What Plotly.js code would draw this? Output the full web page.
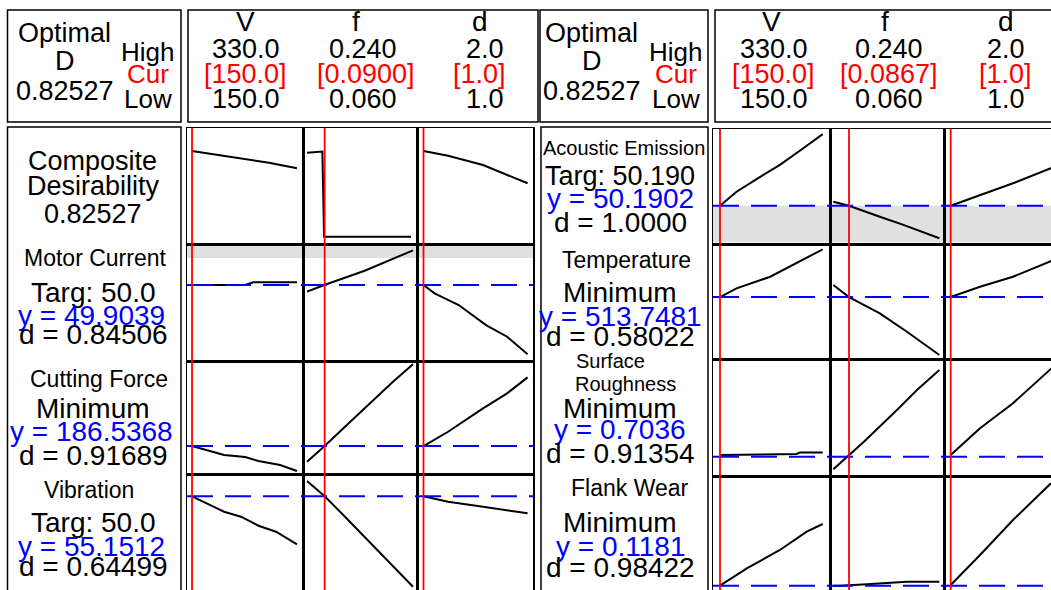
<!DOCTYPE html>
<html><head><meta charset="utf-8">
<script src="https://cdn.plot.ly/plotly-3.0.1.min.js"></script>
<style>html,body{margin:0;padding:0;background:#fff}#chart{width:1051px;height:590px}</style>
</head><body><div id="chart"></div>
<script>
// ================= DATA =================
const factors = ['V', 'f', 'd'];
const factorHigh = ['330.0', '0.240', '2.0'];
const factorLow = ['150.0', '0.060', '1.0'];
const curTextLeft = ['[150.0]', '[0.0900]', '[1.0]'];
const curTextRight = ['[150.0]', '[0.0867]', '[1.0]'];
const curValLeft = [150, 0.09, 1.0];
const curValRight = [150, 0.0867, 1.0];
const optimalD = '0.82527';

const respLeft = ['Motor Current', 'Cutting Force', 'Vibration'];
const goalLeft = ['Targ: 50.0', 'Minimum', 'Targ: 50.0'];
const yLeft = ['49.9039', '186.5368', '55.1512'];
const dLeft = ['0.84506', '0.91689', '0.64499'];

const respRight = ['Acoustic Emission', 'Temperature', 'Surface|Roughness', 'Flank Wear'];
const goalRight = ['Targ: 50.190', 'Minimum', 'Minimum', 'Minimum'];
const yRight = ['50.1902', '513.7481', '0.7036', '0.1181'];
const dRight = ['1.0000', '0.58022', '0.91354', '0.98422'];

// Composite desirability
const cdV_x = [150, 188, 234, 282, 330],            cdV_y = [0.825, 0.793, 0.755, 0.712, 0.658];
const cdF_x = [0.060, 0.0838, 0.0861, 0.089, 0.2366], cdF_y = [0.809, 0.820, 0.820, 0.000, 0.000];
const cdD_x = [1.0, 1.236, 1.572, 1.803, 2.0],      cdD_y = [0.825, 0.780, 0.690, 0.594, 0.514];
// Motor current
const mcV_x = [150, 241, 255, 330],                 mcV_y = [49.90, 49.90, 50.17, 50.17];
const mcF_x = [0.06, 0.0894, 0.158, 0.24],          mcF_y = [49.24, 49.90, 51.33, 53.37];
const mcD_x = [1.0, 1.106, 1.338, 1.601, 1.803, 2.0], mcD_y = [49.90, 49.07, 47.90, 45.90, 44.73, 42.97];
// Cutting force
const cfV_x = [150, 205, 241, 264, 301, 330],       cfV_y = [186.5, 177.5, 175.5, 171.5, 167.5, 161.5];
const cfF_x = [0.06, 0.09, 0.1245, 0.170, 0.206, 0.24], cfF_y = [170.8, 186.5, 205.8, 230.8, 250.8, 268.2];
const cfD_x = [1.0, 1.236, 1.572, 1.803, 2.0],      cfD_y = [186.5, 200.8, 224.2, 239.2, 255.2];
// Vibration
const vbV_x = [150, 174, 205, 234, 264, 294, 330],  vbV_y = [55.15, 54.45, 53.61, 53.11, 52.21, 51.61, 50.35];
const vbF_x = [0.06, 0.09, 0.1245, 0.182, 0.24],    vbF_y = [56.68, 55.15, 53.11, 49.61, 46.11];
const vbD_x = [1.0, 1.236, 1.572, 1.832, 2.0],      vbD_y = [55.15, 54.61, 54.11, 53.68, 53.45];
// Acoustic emission
const aeV_x = [150, 179, 226, 255, 296, 330],       aeV_y = [50.19, 50.89, 51.73, 52.23, 53.06, 53.77];
const aeF_x = [0.06, 0.0867, 0.139, 0.179, 0.24],   aeF_y = [50.39, 50.19, 49.64, 49.23, 48.56];
const aeD_x = [1.0, 1.282, 1.599, 1.964, 2.0],      aeD_y = [50.19, 50.73, 51.31, 52.06, 52.13];
// Temperature
const tpV_x = [150, 179, 238, 284, 330],            tpV_y = [513.7, 522.4, 534.0, 547.4, 561.4];
const tpF_x = [0.06, 0.0867, 0.139, 0.185, 0.24],   tpF_y = [525.7, 513.7, 497.4, 479.0, 455.7];
const tpD_x = [1.0, 1.282, 1.599, 1.964, 2.0],      tpD_y = [513.7, 524.0, 534.0, 549.7, 551.2];
// Surface roughness
const srV_x = [150, 284, 290, 330],                 srV_y = [0.712, 0.717, 0.724, 0.724];
const srF_x = [0.06, 0.0867, 0.111, 0.168, 0.202, 0.24], srF_y = [0.641, 0.712, 0.776, 0.937, 1.037, 1.137];
const srD_x = [1.0, 1.282, 1.599, 1.964, 2.0],      srD_y = [0.712, 0.846, 0.971, 1.142, 1.160];
// Flank wear
const fwV_x = [150, 197, 255, 302, 330],            fwV_y = [0.1181, 0.1355, 0.1538, 0.1721, 0.1798];
const fwF_x = [0.06, 0.0714, 0.117, 0.185, 0.24],   fwF_y = [0.1181, 0.1181, 0.1195, 0.1221, 0.1221];
const fwD_x = [1.0, 1.282, 1.599, 1.964],           fwD_y = [0.1188, 0.1488, 0.1838, 0.2205];

// grey bands (response units)
const bandLeftMC = [52.60, 54.00];
const bandRightAE = [48.36, 50.19];

// ================= LAYOUT =================
const W = 1051, H = 590;
const px = x => x / W, py = y => 1 - y / H;
const FONT = "'Liberation Sans', Arial, sans-serif";

const panels = [
  {
    cols: [[187, 303], [303, 417], [417, 533]],
    rows: [[128, 244], [244, 361], [361, 474], [474, 590]],
    xr: [[141.4, 340.3], [0.0532, 0.2468], [0.9375, 2.052]],
    yr: [[-0.0703, 1.0462], [42.3039, 54.0039], [158.5368, 271.5368], [45.7812, 57.3812]],
    curves: [[[cdV_x, cdV_y], [cdF_x, cdF_y], [cdD_x, cdD_y]],
             [[mcV_x, mcV_y], [mcF_x, mcF_y], [mcD_x, mcD_y]],
             [[cfV_x, cfV_y], [cfF_x, cfF_y], [cfD_x, cfD_y]],
             [[vbV_x, vbV_y], [vbF_x, vbF_y], [vbD_x, vbD_y]]],
    dashed: [null, parseFloat(yLeft[0]), parseFloat(yLeft[1]), parseFloat(yLeft[2])],
    band: [1, bandLeftMC],
    cur: curValLeft,
    cutRight: false
  },
  {
    cols: [[713, 830], [830, 944], [944, 1051]],
    rows: [[129, 244], [244, 359], [359, 476], [476, 590]],
    xr: [[137.73, 342.8], [0.0544, 0.2479], [0.9356, 1.9644]],
    yr: [[48.2752, 54.0252], [451.7481, 566.7481], [0.6071, 1.1921], [0.1138, 0.2278]],
    curves: [[[aeV_x, aeV_y], [aeF_x, aeF_y], [aeD_x, aeD_y]],
             [[tpV_x, tpV_y], [tpF_x, tpF_y], [tpD_x, tpD_y]],
             [[srV_x, srV_y], [srF_x, srF_y], [srD_x, srD_y]],
             [[fwV_x, fwV_y], [fwF_x, fwF_y], [fwD_x, fwD_y]]],
    dashed: yRight.map(parseFloat),
    band: [0, bandRightAE],
    cur: curValRight,
    cutRight: true
  }
];

const traces = [];
const layout = {
  width: W, height: H,
  margin: {l: 0, r: 0, t: 0, b: 0},
  paper_bgcolor: '#ffffff', plot_bgcolor: 'rgba(0,0,0,0)',
  showlegend: false,
  font: {family: FONT, color: '#000'},
  shapes: [], annotations: []
};

const axBase = {showline: true, mirror: true, linecolor: '#000', linewidth: 1.5,
  showgrid: false, zeroline: false, showticklabels: false, ticks: '', fixedrange: true};

panels.forEach((P, p) => {
  for (let r = 0; r < 4; r++) {
    for (let c = 0; c < 3; c++) {
      const n = p * 12 + r * 3 + c + 1;
      const sx = n > 1 ? String(n) : '';
      const xa = Object.assign({}, axBase, {
        domain: [px(P.cols[c][0]), px(P.cols[c][1])], range: P.xr[c], anchor: 'y' + sx
      });
      if (r === 3) { xa.side = 'top'; xa.mirror = false; }
      const ya = Object.assign({}, axBase, {
        domain: [py(P.rows[r][1]), py(P.rows[r][0])], range: P.yr[r], anchor: 'x' + sx
      });
      if (P.cutRight && c === 2) { ya.mirror = false; }
      layout['xaxis' + sx] = xa;
      layout['yaxis' + sx] = ya;
      const cv = P.curves[r][c];
      traces.push({type: 'scatter', mode: 'lines', x: cv[0], y: cv[1],
        xaxis: 'x' + sx, yaxis: 'y' + sx, hoverinfo: 'skip',
        line: {color: '#000', width: 2}});
    }
    // blue dashed line for the row
    if (P.dashed[r] !== null) {
      const n0 = p * 12 + r * 3 + 1;
      layout.shapes.push({type: 'line', xref: 'paper', yref: 'y' + (n0 > 1 ? n0 : ''),
        x0: px(P.cols[0][0]), x1: px(P.cols[2][1]) , y0: P.dashed[r], y1: P.dashed[r],
        line: {color: '#0000ff', width: 2, dash: '26px,12px'}});
    }
  }
  // grey band
  const br = P.band[0], nb = p * 12 + br * 3 + 1;
  layout.shapes.push({type: 'rect', xref: 'paper', yref: 'y' + (nb > 1 ? nb : ''), layer: 'below',
    x0: px(P.cols[0][0]), x1: px(P.cols[2][1]), y0: P.band[1][0], y1: P.band[1][1],
    fillcolor: '#e0e0e0', line: {width: 0}});
  // red current-setting lines
  for (let c = 0; c < 3; c++) {
    const n = p * 12 + c + 1;
    layout.shapes.push({type: 'line', xref: 'x' + (n > 1 ? n : ''), yref: 'paper',
      x0: P.cur[c], x1: P.cur[c], y0: -0.01, y1: py(P.rows[0][0]),
      line: {color: '#ff0000', width: 1.8}});
  }
});

// frames / boxes
const boxes = [
  [7.5, 10, 181, 122], [188, 10, 538, 122], [7.5, 127, 181, 600],
  [540, 10, 708, 122], [715, 10, 1070, 122], [541, 127, 708, 600]
];
boxes.forEach(b => layout.shapes.push({type: 'rect', xref: 'paper', yref: 'paper',
  x0: px(b[0]), x1: px(b[2]), y0: py(b[3]), y1: py(b[1]),
  line: {color: '#000', width: 1.5}, fillcolor: 'rgba(0,0,0,0)'}));

// text helper
function T(text, x, y, size, color) {
  layout.annotations.push({text: text, x: px(x), y: py(y), xref: 'paper', yref: 'paper',
    xanchor: 'center', yanchor: 'middle', showarrow: false,
    font: {family: FONT, size: size, color: color || '#000'}});
}
const RED = '#ff0000', BLUE = '#0000ff';

// Header boxes
const hdr = [
  {ox: 64.5, hx: 147.5, fx: [245, 356, 479.5], vx: [245.5, 363, 484.5], cx: [245.5, 366, 479.5], cur: curTextLeft},
  {ox: 591.5, hx: 675.5, fx: [771, 885, 1006], vx: [773.5, 888.5, 1005.5], cx: [773, 888.5, 1005], cur: curTextRight}
];
hdr.forEach(h => {
  T('Optimal', h.ox, 33, 27);
  T('D', h.ox, 61, 27);
  T(optimalD, h.ox, 91, 27);
  T('High', h.hx, 52, 26);
  T('Cur', h.hx + 0.5, 74, 26, RED);
  T('Low', h.hx, 99, 26);
  for (let c = 0; c < 3; c++) {
    T(factors[c], h.fx[c], 22, 28);
    T(factorHigh[c], h.vx[c], 49.5, 27);
    T(h.cur[c], h.cx[c], 74, 27, RED);
    T(factorLow[c], h.vx[c], 99, 27);
  }
});

// Left label box
T('Composite', 92, 161, 27);
T('Desirability', 93, 186, 27);
T(optimalD, 93, 214, 27);
const lblY = [[258, 292, 315, 334], [379, 409, 431, 455], [490, 522, 546, 566]];
const lblNX = [95, 99, 89];
for (let i = 0; i < 3; i++) {
  T(respLeft[i], lblNX[i], lblY[i][0], 23);
  T(goalLeft[i], 93, lblY[i][1], 28);
  T('y = ' + yLeft[i], 91.5, lblY[i][2], 28, BLUE);
  T('d = ' + dLeft[i], 93, lblY[i][3], 28);
}

// Right label box
const rY = [[148.5, 176, 198, 222], [260, 292, 316, 336], [null, 408, 429, 453], [488, 522, 546, 567]];
const rNX = [623.5, 626.5, 0, 630];
const rNS = [20, 23, 20, 23];
for (let i = 0; i < 4; i++) {
  if (i === 2) {
    const parts = respRight[i].split('|');
    T(parts[0], 610, 361, 20);
    T(parts[1], 625, 384, 20);
  } else {
    T(respRight[i], rNX[i], rY[i][0], rNS[i]);
  }
  T(goalRight[i], 620, rY[i][1], i === 0 ? 27 : 28);
  T('y = ' + yRight[i], 620, rY[i][2], 28, BLUE);
  T('d = ' + dRight[i], 620, rY[i][3], 28);
}

Plotly.newPlot('chart', traces, layout, {staticPlot: true, displayModeBar: false});
</script>
</body></html>
